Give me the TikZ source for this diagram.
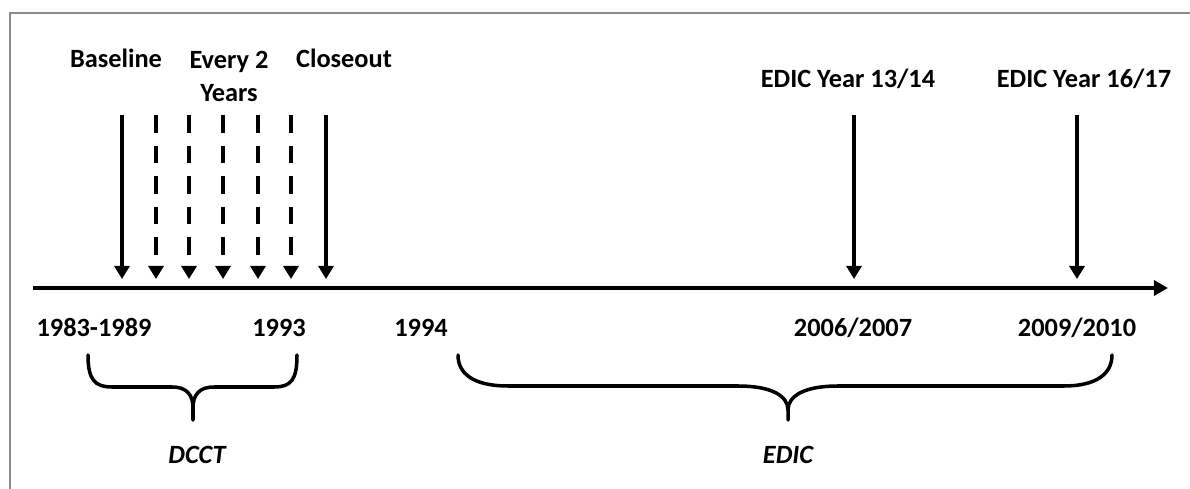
\documentclass[tikz,border=0pt]{standalone}
\usepackage{fontspec}
\setmainfont{Carlito}
\usetikzlibrary{arrows.meta}
\begin{document}
\begin{tikzpicture}[x=0.02cm,y=-0.02cm,
  lbl/.style={font=\fontsize{15}{19.3}\selectfont\bfseries, inner sep=0pt, anchor=base, align=center},
  ital/.style={lbl, font=\fontsize{15}{19.3}\selectfont\bfseries\itshape},
  ev/.style={line width=2pt, -{Triangle[width=8.5pt,length=7.4pt]}},
  evd/.style={ev, dash pattern=on 10pt off 7.4pt},
  axisline/.style={line width=2.6pt, -{Triangle[width=8.5pt,length=8pt]}},
  bracepath/.style={line width=2pt, line join=round, line cap=round},
  frame/.style={draw=black!45, line width=1.6pt}]
\useasboundingbox (0,0) rectangle (1190,489);
\draw[frame] (10,495) -- (10,13) -- (1195,13);

% axis
\coordinate (ax0) at (33,288);
\coordinate (ax1) at (1168,288);
\draw[axisline] (ax0) -- (ax1);

% top labels (base anchor of a multi-line node = last line)
\node[lbl] (lbase) at (116,68) {Baseline};
\node[lbl] (levery) at (229,102) {Every 2\\Years};
\node[lbl] (lclose) at (344,68) {Closeout};
\node[lbl] (ledic1) at (848,88) {EDIC Year 13/14};
\node[lbl] (ledic2) at (1084,88) {EDIC Year 16/17};

% arrows
\coordinate (a0t) at (122,115); \coordinate (a0b) at (122,279);
\coordinate (a1t) at (156,115); \coordinate (a1b) at (156,279);
\coordinate (a2t) at (189,115); \coordinate (a2b) at (189,279);
\coordinate (a3t) at (223,115); \coordinate (a3b) at (223,279);
\coordinate (a4t) at (258,115); \coordinate (a4b) at (258,279);
\coordinate (a5t) at (291,115); \coordinate (a5b) at (291,279);
\coordinate (a6t) at (326,115); \coordinate (a6b) at (326,279);
\coordinate (a7t) at (854,115); \coordinate (a7b) at (854,279);
\coordinate (a8t) at (1077,115); \coordinate (a8b) at (1077,279);
\draw[ev] (a0t) -- (a0b);
\draw[evd] (a1t) -- (a1b);
\draw[evd] (a2t) -- (a2b);
\draw[evd] (a3t) -- (a3b);
\draw[evd] (a4t) -- (a4b);
\draw[evd] (a5t) -- (a5b);
\draw[ev] (a6t) -- (a6b);
\draw[ev] (a7t) -- (a7b);
\draw[ev] (a8t) -- (a8b);

% year labels
\node[lbl] (y1) at (94,337) {1983-1989};
\node[lbl] (y2) at (279,337) {1993};
\node[lbl] (y3) at (421,337) {1994};
\node[lbl] (y4) at (853,337) {2006/2007};
\node[lbl] (y5) at (1077,337) {2009/2010};

% braces
\draw[bracepath] (88,355) .. controls (88,380) and (95,387) .. (112,387) -- (172,387)
  .. controls (187,387) and (193,395) .. (193,408) -- (193,420);
\draw[bracepath] (193,408) .. controls (193,395) and (199,387) .. (214,387) -- (274,387)
  .. controls (291,387) and (297,380) .. (297,355);
\draw[bracepath] (458,355) .. controls (458,374) and (474,386) .. (508,386) -- (738,386)
  .. controls (772,386) and (788,396) .. (788,410) -- (788,420);
\draw[bracepath] (788,410) .. controls (788,396) and (804,386) .. (838,386) -- (1064,386)
  .. controls (1096,386) and (1112,374) .. (1112,355);

\node[ital] (dcct) at (197,463) {DCCT};
\node[ital] (edic) at (788,463) {EDIC};
\end{tikzpicture}
\end{document}
